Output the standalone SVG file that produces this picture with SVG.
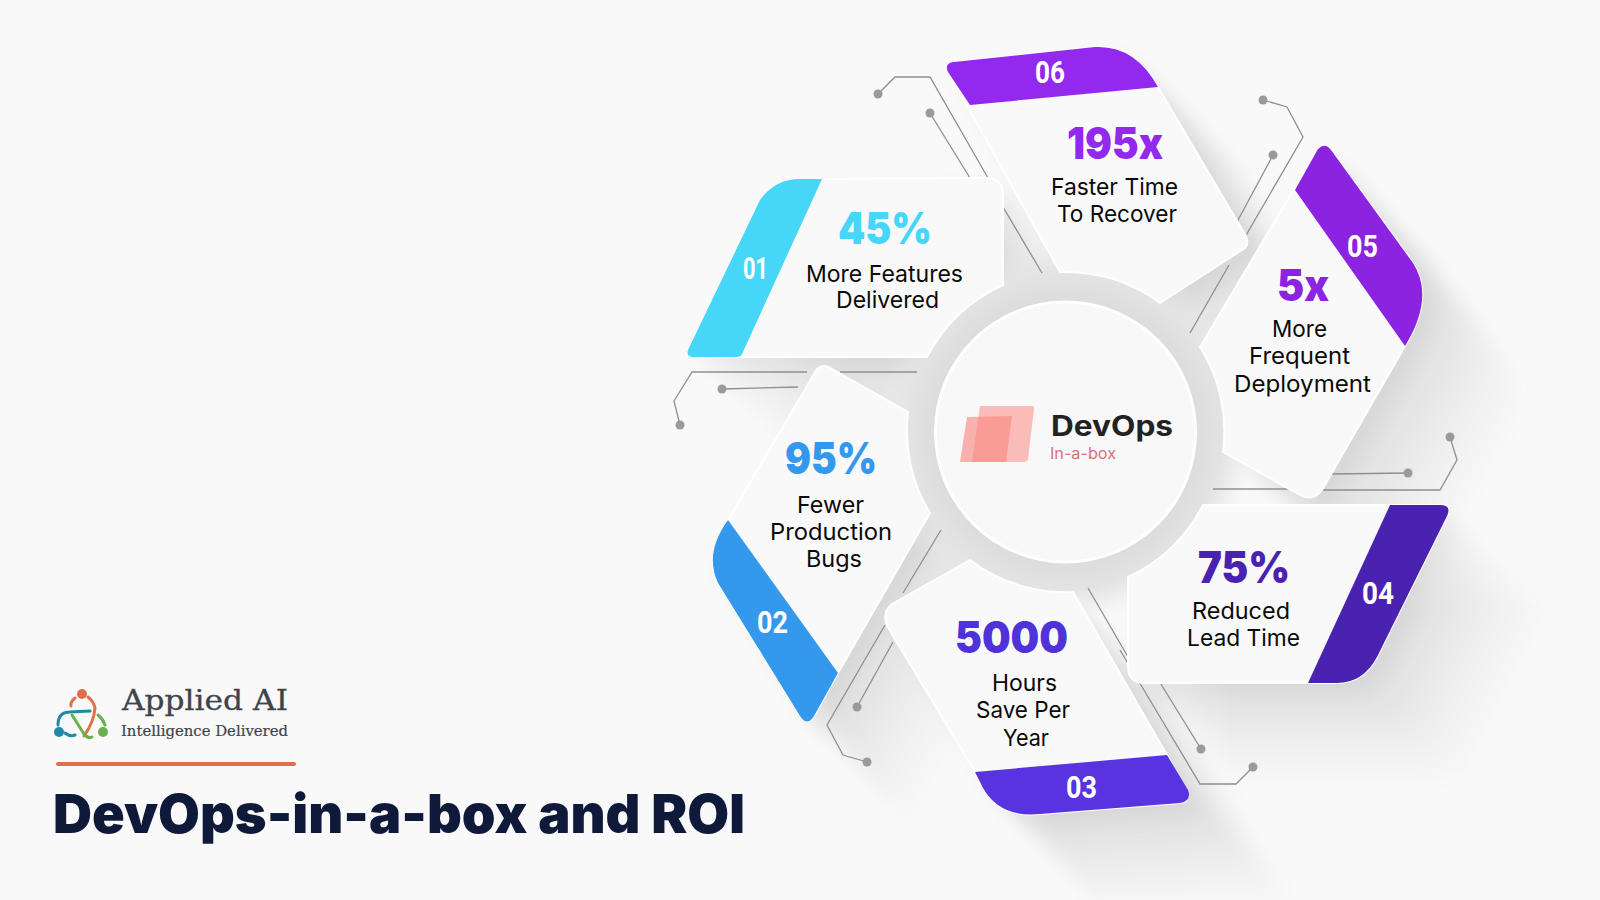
<svg xmlns="http://www.w3.org/2000/svg" width="1600" height="900" viewBox="0 0 1600 900">
<style>
.card{fill:#f9f9f9;stroke:#fff;stroke-width:2;stroke-linejoin:round}
.lead{fill:none;stroke:#8f8f8f;stroke-width:1.3}
.dot{fill:#9a9a9a}
.big{font-family:Inter,"Liberation Sans",sans-serif;font-weight:900;font-size:44px;text-anchor:middle}
.lbl{font-family:Inter,"Liberation Sans",sans-serif;font-weight:400;font-size:23px;fill:#0a0a0a;text-anchor:middle}
.num{font-family:Roboto,"Liberation Sans",sans-serif;font-weight:700;font-size:31px;fill:#fff;text-anchor:middle}
</style>
<defs>
<path id="c1" d="M688 350 L780 192 Q790 179 805 179 L985 178 Q1003 178 1003 195 L1003 285 A157 157 0 0 0 927 357 L696 357 Q686 357 688 350Z"/>
<path id="c2" d="M817 369 Q824 363 832 369 L908 412 A157 157 0 0 0 930 513 L838 673 L814 716 Q807 727 800 716 L718 583 Q705 563 728 520Z"/>
<path id="c3" d="M892 604 L970 560 A157 157 0 0 0 1073 592 L1167 755 L1186 790 Q1192 801 1180 803 L1040 814 Q1000 818 983 788 L975 772 L887 626 Q882 612 892 604Z"/>
<path id="c4" d="M1128 577 A157 157 0 0 0 1203 505 L1440 505 Q1452 505 1447 516 L1377 657 Q1363 683 1337 683 L1145 683 Q1128 683 1128 666Z"/>
<path id="c5" d="M1318 149 Q1325 142 1331 150 L1413 263 Q1435 297 1405 346 L1322 490 Q1312 502 1300 495 L1223 452 A157 157 0 0 0 1200 347Z"/>
<path id="c6" d="M948 72 Q944 63 954 62 L1095 47 Q1135 45 1158 87 L1246 236 Q1250 246 1242 250 L1160 303 A157 157 0 0 0 1060 272Z"/>
<filter id="longShadow" filterUnits="userSpaceOnUse" x="0" y="0" width="1600" height="900" color-interpolation-filters="sRGB">
<feGaussianBlur in="SourceAlpha" stdDeviation="3" result="b"/>
<feColorMatrix in="b" type="matrix" values="0 0 0 0 0.4 0 0 0 0 0.4 0 0 0 0 0.4 0 0 0 0.028 0" result="g"/>
<feOffset in="g" dx="6" dy="6" result="o1"/>
<feOffset in="g" dx="12" dy="12" result="o2"/>
<feOffset in="g" dx="18" dy="18" result="o3"/>
<feOffset in="g" dx="26" dy="26" result="o4"/>
<feOffset in="g" dx="36" dy="36" result="o5"/>
<feOffset in="g" dx="48" dy="48" result="o6"/>
<feOffset in="g" dx="62" dy="62" result="o7"/>
<feOffset in="g" dx="78" dy="78" result="o8"/>
<feOffset in="g" dx="96" dy="96" result="o9"/>
<feMerge result="m"><feMergeNode in="o9"/><feMergeNode in="o8"/><feMergeNode in="o7"/><feMergeNode in="o6"/><feMergeNode in="o5"/><feMergeNode in="o4"/><feMergeNode in="o3"/><feMergeNode in="o2"/><feMergeNode in="o1"/></feMerge>
<feGaussianBlur in="m" stdDeviation="7"/>
</filter>
<radialGradient id="ring" gradientUnits="userSpaceOnUse" cx="1065.5" cy="432" r="190">
<stop offset="0.68" stop-color="#dcdcdc"/><stop offset="0.83" stop-color="#e3e3e3"/><stop offset="1" stop-color="#e9e9e9" stop-opacity="0"/>
</radialGradient>
</defs>
<rect width="1600" height="900" fill="#f9f9fa"/>
<g id="shadows" filter="url(#longShadow)" fill="#000">
<use href="#c1"/><use href="#c2"/><use href="#c3"/><use href="#c4"/><use href="#c5"/><use href="#c6"/>
</g>
<circle id="halo" cx="1065.5" cy="432" r="190" fill="url(#ring)"/>
<g id="connectors">
<polyline class="lead" points="878,94 895,77 930,77 988,178"/>
<polyline class="lead" points="930,113 970,178"/>
<polyline class="lead" points="1003,207 1042,273"/>
<polyline class="lead" points="1263,100 1287,107 1303,137 1245,237"/>
<polyline class="lead" points="1273,155 1237,222"/>
<polyline class="lead" points="1229,265 1190,333"/>
<polyline class="lead" points="1450,437 1457,460 1440,490 1323,490"/>
<polyline class="lead" points="1213,489 1293,489"/>
<polyline class="lead" points="1408,473 1332,474"/>
<polyline class="lead" points="1201,749 1143,655"/>
<polyline class="lead" points="1253,767 1236,784 1200,784 1120,650"/>
<polyline class="lead" points="1128,657 1088,588"/>
<polyline class="lead" points="867,762 843,755 827,725 885,625"/>
<polyline class="lead" points="857,707 893,642"/>
<polyline class="lead" points="903,593 941,530"/>
<polyline class="lead" points="680,425 674,401 692,372 807,372"/>
<polyline class="lead" points="840,372 917,372"/>
<polyline class="lead" points="722,389 798,387"/>
<circle class="dot" cx="878" cy="94" r="4.5"/><circle class="dot" cx="930" cy="113" r="4.5"/>
<circle class="dot" cx="1263" cy="100" r="4.5"/><circle class="dot" cx="1273" cy="155" r="4.5"/>
<circle class="dot" cx="1450" cy="437" r="4.5"/><circle class="dot" cx="1408" cy="473" r="4.5"/>
<circle class="dot" cx="1201" cy="749" r="4.5"/><circle class="dot" cx="1253" cy="767" r="4.5"/>
<circle class="dot" cx="867" cy="762" r="4.5"/><circle class="dot" cx="857" cy="707" r="4.5"/>
<circle class="dot" cx="680" cy="425" r="4.5"/><circle class="dot" cx="722" cy="389" r="4.5"/>
</g>
<g id="node-01">
<use href="#c1" class="card"/>
<path fill="#46d7f8" d="M688 350 L760 200 Q775 179 800 179 L822 179 L742 354 Q741 357 736 357 L692 357 Q686 356 688 350Z"/>
<text class="num" x="755.5" y="279" textLength="25" lengthAdjust="spacingAndGlyphs">01</text>
<text class="big" x="885" y="244" fill="#46d7f8" textLength="94" lengthAdjust="spacingAndGlyphs">45%</text>
<text class="lbl" x="884.5" y="282" textLength="157" lengthAdjust="spacingAndGlyphs">More Features</text>
<text class="lbl" x="887.5" y="308" textLength="103" lengthAdjust="spacingAndGlyphs">Delivered</text>
</g>
<g id="node-02">
<use href="#c2" class="card"/>
<path fill="#3499ec" d="M728 520 L838 673 L814 716 Q807 727 800 716 L718 583 Q704 553 728 520Z"/>
<text class="num" x="772.5" y="633" textLength="31" lengthAdjust="spacingAndGlyphs">02</text>
<text class="big" x="831" y="474" fill="#3499ec" textLength="92" lengthAdjust="spacingAndGlyphs">95%</text>
<text class="lbl" x="830.5" y="513" textLength="67" lengthAdjust="spacingAndGlyphs">Fewer</text>
<text class="lbl" x="831" y="540" textLength="122" lengthAdjust="spacingAndGlyphs">Production</text>
<text class="lbl" x="834" y="567" textLength="56" lengthAdjust="spacingAndGlyphs">Bugs</text>
</g>
<g id="node-03">
<use href="#c3" class="card"/>
<path fill="#5933e0" d="M975 772 L1167 755 L1188 790 Q1192 801 1180 803 L1040 814 Q1000 818 983 788Z"/>
<text class="num" x="1081.5" y="798" textLength="31" lengthAdjust="spacingAndGlyphs">03</text>
<text class="big" x="1011.5" y="653" fill="#5033d8" textLength="113" lengthAdjust="spacingAndGlyphs">5000</text>
<text class="lbl" x="1024.5" y="691" textLength="65" lengthAdjust="spacingAndGlyphs">Hours</text>
<text class="lbl" x="1023" y="718" textLength="94" lengthAdjust="spacingAndGlyphs">Save Per</text>
<text class="lbl" x="1026" y="746" textLength="46" lengthAdjust="spacingAndGlyphs">Year</text>
</g>
<g id="node-04">
<use href="#c4" class="card"/>
<path fill="#4a22b0" d="M1390 505 L1440 505 Q1452 505 1447 516 L1377 657 Q1363 683 1337 683 L1308 683Z"/>
<text class="num" x="1378" y="604" textLength="32" lengthAdjust="spacingAndGlyphs">04</text>
<text class="big" x="1244" y="583" fill="#4a22b0" textLength="92" lengthAdjust="spacingAndGlyphs">75%</text>
<text class="lbl" x="1241" y="619" textLength="98" lengthAdjust="spacingAndGlyphs">Reduced</text>
<text class="lbl" x="1243.5" y="646" textLength="113" lengthAdjust="spacingAndGlyphs">Lead Time</text>
</g>
<g id="node-05">
<use href="#c5" class="card"/>
<path fill="#8b23e0" d="M1295 190 L1318 149 Q1325 142 1331 150 L1413 263 Q1435 297 1405 346Z"/>
<text class="num" x="1362.5" y="257" textLength="31" lengthAdjust="spacingAndGlyphs">05</text>
<text class="big" x="1303" y="301" fill="#8b23e0" textLength="52" lengthAdjust="spacingAndGlyphs">5x</text>
<text class="lbl" x="1299.5" y="337" textLength="55" lengthAdjust="spacingAndGlyphs">More</text>
<text class="lbl" x="1299.5" y="364" textLength="101" lengthAdjust="spacingAndGlyphs">Frequent</text>
<text class="lbl" x="1302.5" y="392" textLength="137" lengthAdjust="spacingAndGlyphs">Deployment</text>
</g>
<g id="node-06">
<use href="#c6" class="card"/>
<path fill="#9329ef" d="M948 72 Q944 63 954 62 L1095 47 Q1135 45 1158 87 L970 105Z"/>
<text class="num" x="1050" y="83" textLength="30" lengthAdjust="spacingAndGlyphs">06</text>
<text class="big" x="1115" y="159" fill="#9329ef" textLength="96" lengthAdjust="spacingAndGlyphs">195x</text>
<text class="lbl" x="1114.5" y="195" textLength="127" lengthAdjust="spacingAndGlyphs">Faster Time</text>
<text class="lbl" x="1117" y="222" textLength="120" lengthAdjust="spacingAndGlyphs">To Recover</text>
</g>
<g id="node-center">
<circle cx="1065.5" cy="432" r="130" fill="#f8f8f8" stroke="#fff" stroke-width="3"/>
<path fill="#f98b84" opacity=".55" d="M980 406 L1032 406 Q1035 406 1034 409 L1028 459 Q1027 462 1024 462 L972 462Z"/>
<path fill="#f98b84" opacity=".65" d="M967 417 L1012 416 L1006 462 L960 462Z"/>
<text x="1112" y="436" font-family="Inter,'Liberation Sans',sans-serif" font-weight="700" font-size="28" fill="#222" text-anchor="middle" textLength="122" lengthAdjust="spacingAndGlyphs">DevOps</text>
<text x="1083" y="459" font-family="Inter,'Liberation Sans',sans-serif" font-size="16" fill="#d9727a" text-anchor="middle" textLength="66" lengthAdjust="spacingAndGlyphs">In-a-box</text>
</g>
<g id="brand">
<g fill="none" stroke-width="3" stroke-linecap="round">
<path stroke="#e0704a" d="M75 698 Q70 702 71 706 M88 697 Q94 702 95 708 Q94 722 84 736"/>
<path stroke="#1f8aa5" d="M58 725 Q58 712 70 712 L90 711 M65 733 Q70 737 75 735"/>
<path stroke="#6ab04c" d="M72 715 L84 734 Q88 739 92 737 M98 715 Q103 719 105 725"/>
</g>
<circle cx="82" cy="694" r="5" fill="#e0704a"/><circle cx="59" cy="732" r="5" fill="#1f8aa5"/><circle cx="103" cy="732" r="5" fill="#6ab04c"/>
<text x="205" y="710" font-family="'DejaVu Serif',serif" font-size="28" fill="#3f444b" stroke="#3f444b" stroke-width=".3" text-anchor="middle" textLength="166" lengthAdjust="spacingAndGlyphs">Applied AI</text>
<text x="204.5" y="736" font-family="'DejaVu Serif',serif" font-size="14" fill="#3f444b" stroke="#3f444b" stroke-width=".2" text-anchor="middle" textLength="167" lengthAdjust="spacingAndGlyphs">Intelligence Delivered</text>
<rect x="56" y="762" width="240" height="4" rx="2" fill="#df7048"/>
<text x="399" y="833" font-family="Inter,'Liberation Sans',sans-serif" font-weight="900" font-size="54" fill="#0f1a3a" text-anchor="middle" textLength="692" lengthAdjust="spacingAndGlyphs">DevOps-in-a-box and ROI</text>
</g>
</svg>
